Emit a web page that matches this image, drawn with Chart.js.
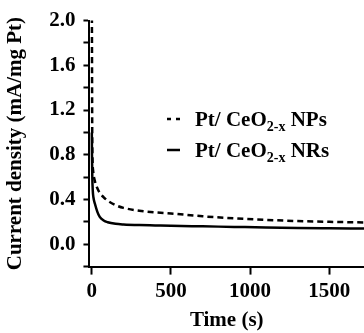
<!DOCTYPE html>
<html>
<head>
<meta charset="utf-8">
<script src="https://cdn.jsdelivr.net/npm/chart.js@4/dist/chart.umd.min.js"></script>
<style>
html,body{margin:0;padding:0;background:#fff;}
#c{display:block;}
</style>
</head>
<body>
<canvas id="c" width="364" height="333"></canvas>
<script>
// ---- data ----
const timeS = [0, 3, 8, 20, 35, 50, 75, 100, 150, 200, 300, 400, 500, 700, 900, 1100, 1300, 1500, 1720];
const npsValues = [2.3, 0.9, 0.66, 0.56, 0.5, 0.46, 0.42, 0.39, 0.35, 0.325, 0.30, 0.285, 0.275, 0.25, 0.232, 0.218, 0.207, 0.2, 0.195];
const timeR = [0, 1, 3, 6, 10, 20, 35, 50, 75, 100, 150, 200, 300, 400, 500, 700, 900, 1100, 1300, 1500, 1720];
const nrsValues = [1.0, 0.8, 0.6, 0.48, 0.42, 0.36, 0.29, 0.245, 0.212, 0.197, 0.183, 0.177, 0.171, 0.168, 0.165, 0.16, 0.155, 0.15, 0.146, 0.143, 0.14];
const seriesNames = ["Pt/ CeO|2-x| NPs", "Pt/ CeO|2-x| NRs"];
const xTickValues = [0, 500, 1000, 1500];
const yTickValues = [-0.2, 0.0, 0.2, 0.4, 0.6, 0.8, 1.0, 1.2, 1.4, 1.6, 1.8, 2.0];
const yLabelValues = [0.0, 0.4, 0.8, 1.2, 1.6, 2.0];
const xTitle = "Time (s)";
const yTitle = "Current density (mA/mg Pt)";

const FONT = "'Liberation Serif', 'Times New Roman', serif";

const legendPlugin = {
  id: 'subLegend',
  afterDraw(chart) {
    const ctx = chart.ctx;
    const x0 = 167, tx = 195;
    const rows = [119, 150];
    chart.data.datasets.forEach((ds, i) => {
      const y = rows[i];
      ctx.save();
      ctx.strokeStyle = '#000';
      ctx.lineWidth = ds.borderWidth;
      const dashed = ds.borderDash && ds.borderDash.length;
      ctx.setLineDash(dashed ? [4, 5] : []);
      ctx.beginPath();
      ctx.moveTo(x0, y);
      ctx.lineTo(180, y);
      ctx.stroke();
      ctx.setLineDash([]);
      ctx.fillStyle = '#000';
      ctx.textBaseline = 'alphabetic';
      const parts = ds.label.split('|');
      let x = tx;
      const base = y + 7;
      parts.forEach((p, k) => {
        if (k % 2 === 1) {
          ctx.font = "bold 14px " + FONT;
          ctx.fillText(p, x, base + 5);
        } else {
          ctx.font = "bold 21px " + FONT;
          ctx.fillText(p, x, base);
        }
        x += ctx.measureText(p).width;
      });
      ctx.restore();
    });
  }
};

new Chart(document.getElementById('c'), {
  type: 'line',
  data: {
    datasets: [
      {
        label: seriesNames[0],
        data: timeS.map((t, i) => ({x: t, y: npsValues[i]})),
        borderColor: '#000',
        borderWidth: 2.5,
        borderDash: [6, 4],
        pointRadius: 0,
        cubicInterpolationMode: 'monotone',
        fill: false
      },
      {
        label: seriesNames[1],
        data: timeR.map((t, i) => ({x: t, y: nrsValues[i]})),
        borderColor: '#000',
        borderWidth: 2.5,
        pointRadius: 0,
        cubicInterpolationMode: 'monotone',
        fill: false
      }
    ]
  },
  options: {
    responsive: false,
    animation: false,
    devicePixelRatio: 1,
    layout: { padding: { top: 8, right: 0, left: 3, bottom: 0 } },
    plugins: { legend: { display: false }, tooltip: { enabled: false } },
    scales: {
      x: {
        type: 'linear',
        min: -15,
        max: 1720,
        afterBuildTicks: (axis) => { axis.ticks = xTickValues.map(v => ({value: v})); },
        ticks: {
          color: '#000',
          font: { family: FONT, size: 21, weight: 'bold' },
          padding: 4,
          maxRotation: 0,
          callback: (v) => String(v)
        },
        grid: { drawOnChartArea: false, drawTicks: true, tickLength: 8, tickWidth: 2, tickColor: '#000' },
        border: { display: true, color: '#000', width: 2 },
        title: { display: true, text: xTitle, color: '#000', font: { family: FONT, size: 21, weight: 'bold' }, padding: { top: 0, bottom: 0 } }
      },
      y: {
        type: 'linear',
        min: -0.2,
        max: 2.0,
        afterBuildTicks: (axis) => { axis.ticks = yTickValues.map(v => ({value: v})); },
        ticks: {
          color: '#000',
          font: { family: FONT, size: 21, weight: 'bold' },
          padding: 8,
          autoSkip: false,
          callback: (v) => {
            const r = Math.round(v * 10) / 10;
            return yLabelValues.some(l => Math.abs(l - r) < 1e-6) ? r.toFixed(1) : '';
          }
        },
        grid: { drawOnChartArea: false, drawTicks: true, tickLength: 6, tickWidth: 2, tickColor: '#000' },
        border: { display: true, color: '#000', width: 2 },
        title: { display: true, text: yTitle, color: '#000', font: { family: FONT, size: 21, weight: 'bold' }, padding: { top: 0, bottom: 13 } }
      }
    }
  },
  plugins: [legendPlugin]
});
</script>
</body>
</html>
